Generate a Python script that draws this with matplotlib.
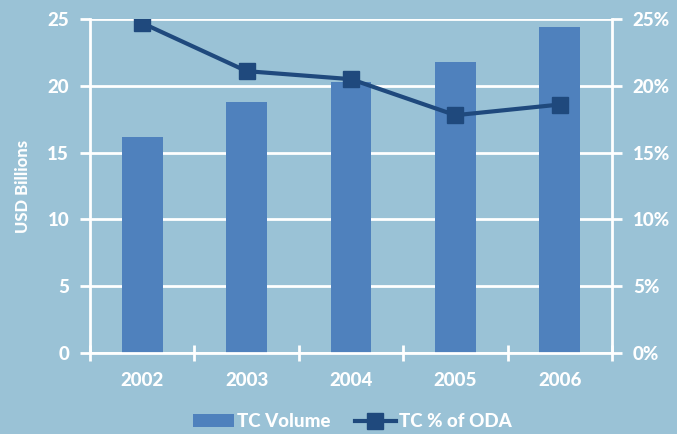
import matplotlib.pyplot as plt
import numpy as np
from matplotlib.ticker import FuncFormatter

years = ["2002", "2003", "2004", "2005", "2006"]
tc_volume = [16.2, 18.8, 20.3, 21.8, 24.4]          # USD billions
tc_pct_oda = [24.7, 21.1, 20.5, 17.8, 18.6]         # percent of ODA

BG = "#9AC2D6"
BAR = "#4F81BD"
LINE = "#1F497D"
WHITE = "white"

plt.rcParams["font.family"] = ["Lato", "DejaVu Sans"]
plt.rcParams["font.weight"] = "black"

fig = plt.figure(figsize=(6.77, 4.34), dpi=100, facecolor=BG)
ax = fig.add_axes([0.133, 0.187, 0.771, 0.769])
ax.set_facecolor(BG)

x = np.arange(len(years))
ax.bar(x, tc_volume, width=0.39, color=BAR, zorder=2, label="TC Volume")
ax.set_xlim(-0.5, len(years) - 0.5)
ax.set_ylim(0, 25)
ax.set_yticks(range(0, 26, 5))
ax.yaxis.grid(True, color=WHITE, linewidth=2, zorder=0)
ax.set_axisbelow(True)

# category boundaries carry the tick marks, labels sit under the bars
ax.set_xticks(np.arange(-0.5, len(years), 1.0))
ax.set_xticklabels([])
ax.set_xticks(x, minor=True)
ax.set_xticklabels(years, minor=True)
ax.tick_params(axis="x", which="major", direction="inout", length=12, width=2, color=WHITE)
ax.tick_params(axis="x", which="minor", length=0, pad=14, labelsize=13.5, labelcolor=WHITE)
ax.tick_params(axis="y", direction="out", length=7, width=2, color=WHITE,
               labelsize=13.5, labelcolor=WHITE, pad=8)

for side in ["top", "right"]:
    ax.spines[side].set_visible(False)
for side in ["left", "bottom"]:
    ax.spines[side].set_color(WHITE)
    ax.spines[side].set_linewidth(2)

ax.set_ylabel("USD Billions", color=WHITE, fontsize=12, fontweight="black", labelpad=12)

ax2 = ax.twinx()
line, = ax2.plot(x, tc_pct_oda, color=LINE, linewidth=3, marker="s",
                 markersize=11, zorder=3, label="TC % of ODA")
ax2.set_ylim(0, 25)
ax2.set_yticks(range(0, 26, 5))
ax2.yaxis.set_major_formatter(FuncFormatter(lambda v, _: f"{v:.0f}%"))
ax2.tick_params(axis="y", direction="out", length=7, width=2, color=WHITE,
                labelsize=13.5, labelcolor=WHITE, pad=8)
for side in ["top", "left", "bottom"]:
    ax2.spines[side].set_visible(False)
ax2.spines["right"].set_color(WHITE)
ax2.spines["right"].set_linewidth(2)

# legend centred under the plot area
handles = [ax.patches[0], line]
leg = fig.legend(handles, ["TC Volume", "TC % of ODA"], loc="lower center",
                 bbox_to_anchor=(0.52, -0.03), ncol=2, frameon=False,
                 fontsize=13.5, handlelength=2.2, handleheight=0.65,
                 handletextpad=0.15, columnspacing=1.3)
for t in leg.get_texts():
    t.set_color(WHITE)
    t.set_fontweight("black")

fig.savefig("out.png", dpi=100, facecolor=BG)
